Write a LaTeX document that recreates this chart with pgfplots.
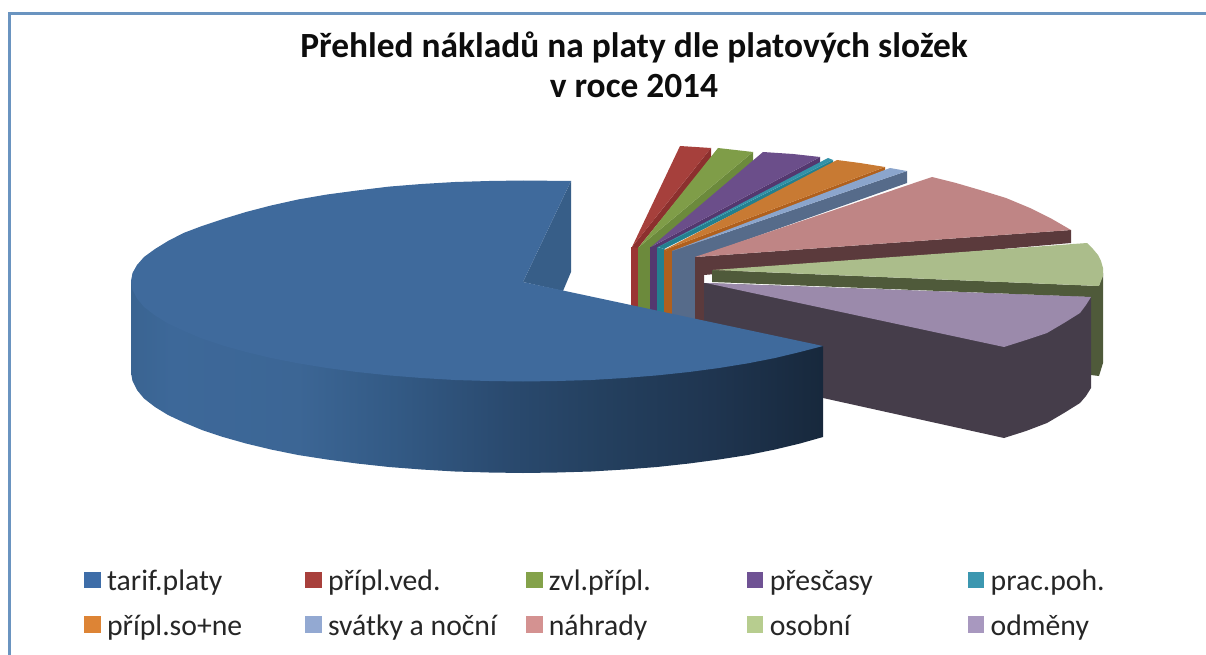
\documentclass[border=0pt]{standalone}
\usepackage{pgfplots}
\pgfplotsset{compat=1.18}
\usepackage{fontspec}
\setmainfont{Carlito}
\definecolor{frameblue}{HTML}{6A94C0}
\definecolor{bluetop}{HTML}{3F6A9C}
\definecolor{bluein}{HTML}{375E88}
\definecolor{redtop}{HTML}{A6403C}
\definecolor{redwall}{HTML}{8C302E}
\definecolor{redstrip}{HTML}{9B3533}
\definecolor{greentop}{HTML}{7F9D48}
\definecolor{greenwall}{HTML}{6C8A3C}
\definecolor{purptop}{HTML}{6B4E8A}
\definecolor{purpwall}{HTML}{54386F}
\definecolor{tealtop}{HTML}{3392A8}
\definecolor{tealwall}{HTML}{23808F}
\definecolor{orgtop}{HTML}{C87A33}
\definecolor{orgwall}{HTML}{B0601D}
\definecolor{ltbtop}{HTML}{8BA5CC}
\definecolor{ltbwall}{HTML}{566B8A}
\definecolor{saltop}{HTML}{BF8585}
\definecolor{salwall}{HTML}{5B3A3C}
\definecolor{lgrtop}{HTML}{ABBD8B}
\definecolor{lgrwall}{HTML}{4F5A3A}
\definecolor{lputop}{HTML}{9B8AAB}
\definecolor{lpuwall}{HTML}{453D4A}
\definecolor{swblue}{HTML}{3E6DA8}
\definecolor{swred}{HTML}{A8403C}
\definecolor{swgreen}{HTML}{84A24A}
\definecolor{swpurple}{HTML}{6F5294}
\definecolor{swteal}{HTML}{3C97B0}
\definecolor{sworange}{HTML}{DD8435}
\definecolor{swltb}{HTML}{93A9D2}
\definecolor{swsal}{HTML}{D49291}
\definecolor{swlgr}{HTML}{B7CD8F}
\definecolor{swlpu}{HTML}{A898BF}
\definecolor{w0}{HTML}{3A6491}
\definecolor{w1}{HTML}{3D6899}
\definecolor{w2}{HTML}{3C6695}
\definecolor{w3}{HTML}{335A85}
\definecolor{w4}{HTML}{2A4A6F}
\definecolor{w5}{HTML}{24405F}
\definecolor{w6}{HTML}{1F3550}
\definecolor{w7}{HTML}{17283C}
\pgfdeclarehorizontalshading{bluewall}{100bp}{
 color(0bp)=(w0); color(25bp)=(w0); color(28bp)=(w1); color(37bp)=(w2); color(44bp)=(w3);
 color(52bp)=(w4); color(59bp)=(w5); color(67bp)=(w6); color(75bp)=(w7); color(100bp)=(w7)}
\begin{document}
\begin{tikzpicture}
\useasboundingbox (0,0) rectangle (1206pt,655pt);
\begin{axis}[
  at={(0,0)}, anchor=south west,
  scale only axis, width=1206pt, height=655pt,
  xmin=0, xmax=1206, ymin=0, ymax=655, y dir=reverse,
  axis lines=none, clip=true,
  legend columns=5,
  legend cell align=left,
  legend image code/.code={\fill[#1] (0pt,-6pt) rectangle (15.5pt,9.5pt);},
  legend style={at={(axis cs:84,570)},anchor=north west,draw=none,fill=none,inner sep=0pt,
    font=\fontsize{29.7}{33}\selectfont\color{black!85},
    /tikz/row sep=22.5pt,
    /tikz/every even column/.append style={column sep=0pt},
    nodes={inner sep=0pt,outer sep=0pt}},
]
% legend
\addlegendimage{swblue}\addlegendentry{\hspace{7pt}\makebox[198pt][l]{tarif.platy}}
\addlegendimage{swred}\addlegendentry{\hspace{7pt}\makebox[198pt][l]{přípl.ved.}}
\addlegendimage{swgreen}\addlegendentry{\hspace{7pt}\makebox[198pt][l]{zvl.přípl.}}
\addlegendimage{swpurple}\addlegendentry{\hspace{7pt}\makebox[198pt][l]{přesčasy}}
\addlegendimage{swteal}\addlegendentry{\hspace{7pt}\makebox[198pt][l]{prac.poh.}}
\addlegendimage{sworange}\addlegendentry{\hspace{7pt}\makebox[198pt][l]{přípl.so+ne}}
\addlegendimage{swltb}\addlegendentry{\hspace{7pt}\makebox[198pt][l]{svátky a noční}}
\addlegendimage{swsal}\addlegendentry{\hspace{7pt}\makebox[198pt][l]{náhrady}}
\addlegendimage{swlgr}\addlegendentry{\hspace{7pt}\makebox[198pt][l]{osobní}}
\addlegendimage{swlpu}\addlegendentry{\hspace{7pt}\makebox[198pt][l]{odměny}}
% frame
\addplot[forget plot,frameblue,line width=3pt] coordinates {(9,655) (9,14) (1206,14)};
% red
\addplot[forget plot,fill=redstrip,draw=none] coordinates {(631,247) (638.5,247) (638.5,310) (631,310)} --cycle;
\addplot[forget plot,fill=redwall,draw=none] coordinates {(711,148) (711,158) (638,248) (632,247)} --cycle;
\addplot[forget plot,fill=redtop,draw=none] coordinates {(632,247) (680,146) (711,148)} --cycle;
% green
\addplot[forget plot,fill=greenwall,draw=none] coordinates {(638,247) (651.5,247) (651.5,312) (638,312)} --cycle;
\addplot[forget plot,fill=greenwall,draw=none] coordinates {(753,152) (753,162) (651,248) (639,247)} --cycle;
\addplot[forget plot,fill=greentop,draw=none] coordinates {(639,247) (718,148) (753,152)} --cycle;
% purple
\addplot[forget plot,fill=purpwall,draw=none] coordinates {(650,247) (657.5,247) (657.5,315) (650,315)} --cycle;
\addplot[forget plot,fill=purpwall,draw=none] coordinates {(820,157) (820,163) (657,248) (651,247)} --cycle;
\addplot[forget plot,fill=purptop,draw=none] coordinates {(651,247) (763,152) (793,154) (820,157)} --cycle;
% teal
\addplot[forget plot,fill=tealwall,draw=none] coordinates {(657,247) (664.5,249) (664.5,318) (657,318)} --cycle;
\addplot[forget plot,fill=tealwall,draw=none] coordinates {(833,160) (833,164) (664,249) (658,247)} --cycle;
\addplot[forget plot,fill=tealtop,draw=none] coordinates {(658,247) (828,158) (833,160)} --cycle;
% orange
\addplot[forget plot,fill=orgwall,draw=none] coordinates {(664,250) (672.5,251) (672.5,320) (664,320)} --cycle;
\addplot[forget plot,fill=orgwall,draw=none] coordinates {(885,167) (885,172) (672,252) (664,250)} --cycle;
\addplot[forget plot,fill=orgtop,draw=none] coordinates {(664,250) (837,160) (860,163) (885,167)} --cycle;
% light blue
\addplot[forget plot,fill=ltbwall,draw=none] coordinates {(672,251) (907,171) (907,183) (695.5,258) (695.5,325) (672,325)} --cycle;
\addplot[forget plot,fill=ltbtop,draw=none] coordinates {(672,251) (890,168) (907,171)} --cycle;
% salmon
\addplot[forget plot,fill=salwall,draw=none] coordinates {(695,257) (1071,230) (1071,243) (704,275) (704,330) (695,330)} --cycle;
\addplot[forget plot,fill=saltop,draw=none] coordinates {(695,257) (932,177) (956,183) (980,190) (1006,198) (1030,208) (1052,219) (1071,230)} --cycle;
% light green
\addplot[forget plot,fill=lgrwall,draw=none] coordinates {(712,270) (1099,286) (1103,273) (1103,363) (1099,376) (1091,375) (1091,297) (712,282)} --cycle;
\addplot[forget plot,fill=lgrtop,draw=none] coordinates {(713,270) (1087,243) (1093,249) (1098,255) (1101,261) (1103,268) (1103,276) (1099,286)} --cycle;
% light purple
\addplot[forget plot,fill=lpuwall,draw=none] coordinates {(704,283) (1091,297) (1091,388) (1086,396) (1080,403) (1064,413) (1047,423) (1026,431) (1004,438) (823,398) (704,365)} --cycle;
\addplot[forget plot,fill=lputop,draw=none] coordinates {(706,283) (1091,297) (1086,305) (1080,313) (1064,323) (1047,333) (1026,340) (1004,347)} --cycle;
% big blue
\addplot[forget plot,fill=bluein,draw=none] coordinates {(571,181) (523,282) (563,291) (571,272)} --cycle;
\addplot[forget plot,shading=bluewall,draw=none] coordinates {
 (823,346) (823,437) (800,443.5) (775,449.5) (748,455) (719,459.5) (689,463.5) (657,467) (624.5,469.5) (591,471.5) (557,472.5) (523,473)
 (489,472.5) (455,471.5) (421.5,469.5) (389,467) (357,463.5) (327,459.5) (298,455) (271,449.5) (246,443.5) (223,437) (202,430) (184,422.5) (168,415) (155,407) (144,398.5) (137,390) (132.5,381) (131,372.5) (131,281)} --cycle;
\addplot[forget plot,fill=bluetop,draw=none] coordinates {
 (571,181) (523,180.5) (489,181) (455,182) (421.5,184) (389,186.6) (357,190.5) (327,194.5) (298,199.5) (271,205.5) (246,212) (223,219) (202,226) (183.5,233) (168,241) (155,249) (144,257) (137,265) (132.5,273) (131,281)
 (132.5,289.8) (137,298.5) (144,307) (155,315.4) (168,323.5) (184,331) (202,338.6) (223,345.6) (246,352) (271,358) (298,363.3) (327,368) (357,372) (389,375.4) (421.5,378) (455,380) (489,381) (523,381.5) (557,381) (591,380) (624.5,378) (657,375.4) (689,372) (719,368) (748,363.3) (775,358) (800,352) (823,346)
 (523,282)} --cycle;
% title
\node[align=center,font=\fontsize{35.4}{40}\selectfont\bfseries,text=black!95] at (axis cs:634,65) {Přehled nákladů na platy dle platových složek\\v roce 2014};
\end{axis}
\end{tikzpicture}
\end{document}
